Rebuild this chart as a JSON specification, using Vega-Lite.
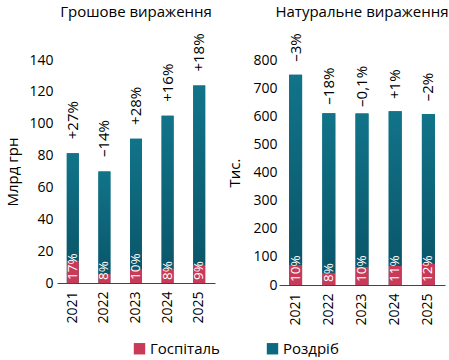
{
  "$schema": "https://vega.github.io/schema/vega-lite/v6.json",
  "background": "white",
  "padding": {"left": 5, "top": 5, "right": 4, "bottom": 0},
  "datasets": {
    "money": [
      {"year": "2021", "hosp": 13.9, "total": 81.5, "change": "+27%", "share": "17%"},
      {"year": "2022", "hosp": 5.6, "total": 70, "change": "–14%", "share": "8%"},
      {"year": "2023", "hosp": 8.5, "total": 90.5, "change": "+28%", "share": "10%"},
      {"year": "2024", "hosp": 8.6, "total": 105, "change": "+16%", "share": "8%"},
      {"year": "2025", "hosp": 11.3, "total": 124, "change": "+18%", "share": "9%"}
    ],
    "units": [
      {"year": "2021", "hosp": 71, "total": 748, "change": "–3%", "share": "10%"},
      {"year": "2022", "hosp": 43, "total": 611, "change": "–18%", "share": "8%"},
      {"year": "2023", "hosp": 64, "total": 610, "change": "–0,1%", "share": "10%"},
      {"year": "2024", "hosp": 68, "total": 618, "change": "+1%", "share": "11%"},
      {"year": "2025", "hosp": 75, "total": 608, "change": "–2%", "share": "12%"}
    ]
  },
  "hconcat": [
    {
      "width": 158,
      "height": 223,
      "title": "Грошове вираження",
      "data": {"name": "money"},
      "encoding": {
        "x": {"field": "year", "type": "ordinal", "title": null,
              "axis": {"labelAngle": -90, "ticks": false, "labelPadding": 8, "domainColor": "#444", "labelFontSize": 14, "labelColor": "black"}}
      },
      "layer": [
        {"mark": {"type": "bar", "size": 12},
         "encoding": {
           "y": {"field": "total", "type": "quantitative", "stack": null, "scale": {"domain": [0, 140]}, "title": "Млрд грн",
                 "axis": {"values": [0, 20, 40, 60, 80, 100, 120, 140], "titlePadding": 8}},
           "color": {"datum": "Роздріб", "scale": {"domain": ["Госпіталь", "Роздріб"], "range": ["#c83a58", "#0c6a80"]},
                     "legend": {"orient": "none", "legendX": 75, "legendY": 281, "direction": "horizontal", "title": null}}
         }},
        {"mark": {"type": "bar", "size": 12, "fill": {"gradient": "linear", "x1": 0, "y1": 0, "x2": 0, "y2": 1, "stops": [{"offset": 0, "color": "#117489"}, {"offset": 1, "color": "#0a566a"}]}},
         "encoding": {
           "y": {"field": "total", "type": "quantitative", "stack": null, "title": "Млрд грн",
                 "axis": {"values": [0, 20, 40, 60, 80, 100, 120, 140], "titlePadding": 8}},
           "y2": {"field": "hosp"}}},
        {"mark": {"type": "bar", "size": 12},
         "encoding": {
           "y": {"field": "hosp", "type": "quantitative", "stack": null, "title": "Млрд грн",
                 "axis": {"values": [0, 20, 40, 60, 80, 100, 120, 140], "titlePadding": 8}},
           "color": {"datum": "Госпіталь"}}},
        {"mark": {"type": "text", "angle": 270, "align": "center", "baseline": "middle", "dx": 33, "fontSize": 15, "color": "black"},
         "encoding": {
           "y": {"field": "total", "type": "quantitative", "stack": null, "title": "Млрд грн",
                 "axis": {"values": [0, 20, 40, 60, 80, 100, 120, 140], "titlePadding": 8}},
           "text": {"field": "change"}}},
        {"mark": {"type": "text", "angle": 270, "align": "left", "baseline": "middle", "dx": 3, "fontSize": 13.5, "color": "white"},
         "encoding": {"y": {"datum": 0, "type": "quantitative", "title": "Млрд грн",
                 "axis": {"values": [0, 20, 40, 60, 80, 100, 120, 140], "titlePadding": 8}}, "text": {"field": "share"}}}
      ]
    },
    {
      "width": 166,
      "height": 225,
      "title": "Натуральне вираження",
      "data": {"name": "units"},
      "encoding": {
        "x": {"field": "year", "type": "ordinal", "title": null,
              "axis": {"labelAngle": -90, "ticks": false, "labelPadding": 8, "domainColor": "#444", "labelFontSize": 14, "labelColor": "black"}}
      },
      "layer": [
        {"mark": {"type": "bar", "size": 13},
         "encoding": {
           "y": {"field": "total", "type": "quantitative", "stack": null, "scale": {"domain": [0, 800]}, "title": "Тис.",
                 "axis": {"values": [0, 100, 200, 300, 400, 500, 600, 700, 800], "titlePadding": 10, "labelPadding": 2}},
           "color": {"datum": "Роздріб"}
         }},
        {"mark": {"type": "bar", "size": 13, "fill": {"gradient": "linear", "x1": 0, "y1": 0, "x2": 0, "y2": 1, "stops": [{"offset": 0, "color": "#117489"}, {"offset": 1, "color": "#0a566a"}]}},
         "encoding": {
           "y": {"field": "total", "type": "quantitative", "stack": null, "title": "Тис.",
                 "axis": {"values": [0, 100, 200, 300, 400, 500, 600, 700, 800], "titlePadding": 10, "labelPadding": 2}},
           "y2": {"field": "hosp"}}},
        {"mark": {"type": "bar", "size": 13},
         "encoding": {
           "y": {"field": "hosp", "type": "quantitative", "stack": null, "title": "Тис.",
                 "axis": {"values": [0, 100, 200, 300, 400, 500, 600, 700, 800], "titlePadding": 10, "labelPadding": 2}},
           "color": {"datum": "Госпіталь"}}},
        {"mark": {"type": "text", "angle": 270, "align": "center", "baseline": "middle", "dx": 27, "fontSize": 15, "color": "black"},
         "encoding": {
           "y": {"field": "total", "type": "quantitative", "stack": null, "title": "Тис.",
                 "axis": {"values": [0, 100, 200, 300, 400, 500, 600, 700, 800], "titlePadding": 10, "labelPadding": 2}},
           "text": {"field": "change"}}},
        {"mark": {"type": "text", "angle": 270, "align": "left", "baseline": "middle", "dx": 3, "fontSize": 13.5, "color": "white"},
         "encoding": {"y": {"datum": 0, "type": "quantitative", "title": "Тис.",
                 "axis": {"values": [0, 100, 200, 300, 400, 500, 600, 700, 800], "titlePadding": 10, "labelPadding": 2}}, "text": {"field": "share"}}}
      ]
    }
  ],
  "spacing": 12,
  "resolve": {"scale": {"y": "independent"}},
  "config": {
    "font": "Open Sans",
    "view": {"stroke": null},
    "axisY": {"labelOverlap": false, "grid": false, "domain": false, "ticks": false, "labelPadding": 4, "labelFontSize": 14, "labelColor": "black", "titleFontSize": 15, "titleFontWeight": "normal", "titleColor": "black"},
    "title": {"fontSize": 15, "fontWeight": "normal", "color": "black", "anchor": "middle", "offset": 13},
    "legend": {"symbolType": "square", "symbolSize": 130, "symbolStrokeWidth": 0, "labelFontSize": 15, "labelColor": "black", "columnPadding": 45, "labelOffset": 3, "padding": 0}
  }
}
